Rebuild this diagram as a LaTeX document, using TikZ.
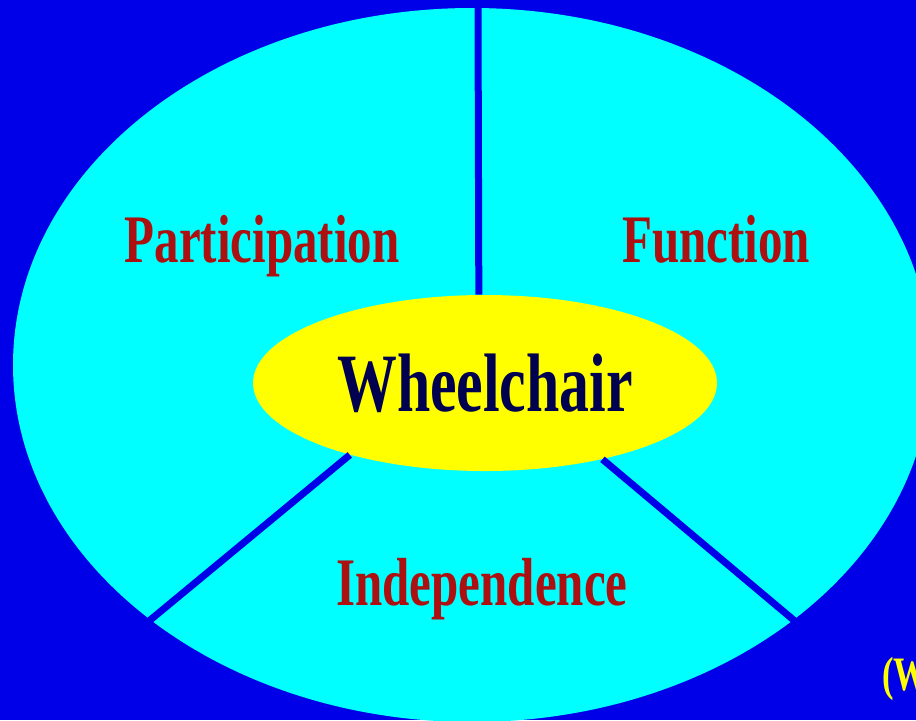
\documentclass[tikz,border=0pt]{standalone}
\usepackage{fontspec}
\setmainfont{Liberation Serif}
\usepackage{graphicx}
\usetikzlibrary{shapes.geometric}

\definecolor{bgblue}{RGB}{0,0,232}
\definecolor{rimcyan}{RGB}{0,255,255}
\definecolor{hubyellow}{RGB}{255,255,0}
\definecolor{labelred}{RGB}{172,16,16}
\definecolor{hubnavy}{RGB}{0,0,80}

\newcommand{\narrow}[1]{\scalebox{0.72}[1]{#1}}

\tikzset{
  rim/.style={ellipse, fill=rimcyan, minimum width=459pt, minimum height=357pt, inner sep=0pt},
  hub/.style={ellipse, fill=hubyellow, minimum width=232pt, minimum height=88pt, inner sep=0pt,
    text=hubnavy, font=\bfseries\fontsize{41.5pt}{42pt}\selectfont},
  sector/.style={anchor=base, inner sep=0pt, text=labelred, font=\bfseries\fontsize{34pt}{34pt}\selectfont},
  spoke/.style={draw=bgblue, line width=3.5pt},
}

\begin{document}
\begin{tikzpicture}[x=0.5pt, y=-0.5pt]
        \useasboundingbox (0,0) rectangle (916,720);
        \clip (0,0) rectangle (916,720);
        \fill[bgblue] (0,0) rectangle (916,720);
        \node[rim] (disc) at (472,365) {};

        % spoke ends on the rim
        \coordinate (ptop) at (478,5);
        \coordinate (pleft) at (149,621);
        \coordinate (pright) at (796,622);

        \node[hub] (chair) at (485,383) {\narrow{Wheelchair}};
        \draw[spoke] (chair.94) -- (ptop);
        \draw[spoke] (chair.208) -- (pleft);
        \draw[spoke] (chair.327) -- (pright);

        % sector labels
        \node[sector] (part) at (262,262) {\narrow{Participation}};
        \node[sector] (func) at (716,262) {\narrow{Function}};
        \node[sector] (indep) at (482,605) {\narrow{Independence}};

        \node[anchor=base west, inner sep=0pt, text=hubyellow, font=\bfseries\fontsize{24pt}{24pt}\selectfont] (who) at (882,690) {\narrow{(W}};
    \end{tikzpicture}
\end{document}
